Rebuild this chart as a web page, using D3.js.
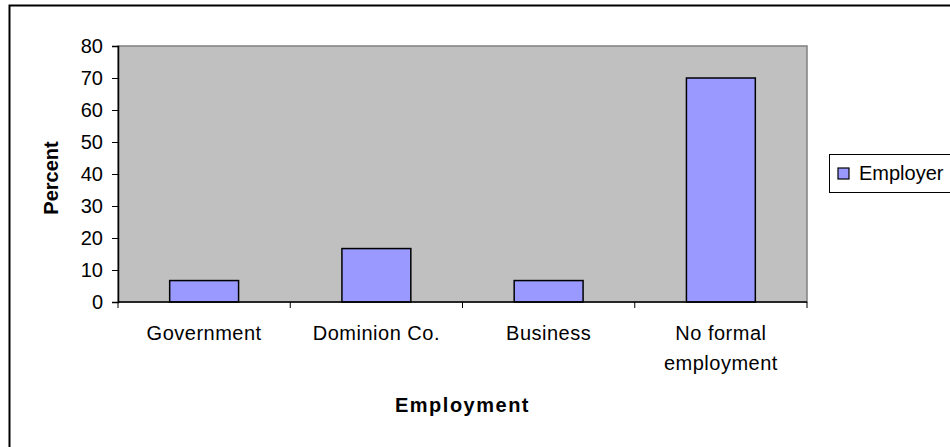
<!DOCTYPE html>
<html>
<head>
<meta charset="utf-8">
<script src="https://cdn.jsdelivr.net/npm/d3@7"></script>
<style>
  body { margin: 0; background: #fff; }
  svg text { font-family: "Liberation Sans", Arial, sans-serif; fill: #000; }
</style>
</head>
<body>
<script>
// chart data
var categories = ["Government", "Dominion Co.", "Business", "No formal employment"];
var categoryLines = [["Government"], ["Dominion Co."], ["Business"], ["No formal", "employment"]];
var employerValues = [6.7, 16.7, 6.7, 70];
var yTicks = [0, 10, 20, 30, 40, 50, 60, 70, 80];
var seriesName = "Employer";

var width = 950, height = 447;
var plot = { left: 118, right: 807, top: 46, bottom: 302 };

var svg = d3.select("body").append("svg")
    .attr("width", width)
    .attr("height", height);

// outer chart border (runs off the right and bottom edges)
svg.append("rect")
    .attr("x", 9.5).attr("y", 5.5)
    .attr("width", 1000).attr("height", 500)
    .attr("fill", "#fff")
    .attr("stroke", "#000")
    .attr("stroke-width", 2);

var x = d3.scaleBand()
    .domain(categories)
    .range([plot.left, plot.right])
    .paddingInner(0.6)
    .paddingOuter(0.3);

var y = d3.scaleLinear()
    .domain([0, 80])
    .range([plot.bottom, plot.top]);

// plot area
svg.append("rect")
    .attr("x", plot.left).attr("y", plot.top)
    .attr("width", plot.right - plot.left)
    .attr("height", plot.bottom - plot.top)
    .attr("fill", "#c0c0c0")
    .attr("stroke", "#808080")
    .attr("stroke-width", 1.5);

// bars
svg.selectAll("rect.bar")
    .data(employerValues)
    .enter()
    .append("rect")
    .attr("class", "bar")
    .attr("x", function (d, i) { return x(categories[i]); })
    .attr("y", function (d) { return y(d); })
    .attr("width", x.bandwidth())
    .attr("height", function (d) { return y(0) - y(d); })
    .attr("fill", "#9999ff")
    .attr("stroke", "#000")
    .attr("stroke-width", 1.5);

// y axis
var yAxis = svg.append("g")
    .attr("transform", "translate(" + plot.left + ",0)")
    .call(d3.axisLeft(y).tickValues(yTicks).tickSize(6).tickPadding(9));
yAxis.select(".domain").attr("stroke", "#000").attr("stroke-width", 1.5);
yAxis.selectAll(".tick line").attr("stroke", "#000");
yAxis.selectAll(".tick text")
    .style("font-size", "20px")
    .style("font-family", "Liberation Sans, Arial, sans-serif")
    .attr("dy", "0.33em");

// x axis line and boundary ticks
svg.append("line")
    .attr("x1", plot.left).attr("x2", plot.right)
    .attr("y1", y(0)).attr("y2", y(0))
    .attr("stroke", "#000").attr("stroke-width", 1.5);

var bounds = d3.range(categories.length + 1).map(function (i) {
    return x.range()[0] + i * x.step();
});
svg.selectAll("line.xtick")
    .data(bounds)
    .enter()
    .append("line")
    .attr("class", "xtick")
    .attr("x1", function (d) { return d; })
    .attr("x2", function (d) { return d; })
    .attr("y1", y(0))
    .attr("y2", y(0) + 6)
    .attr("stroke", "#000");

// category labels
var catLabels = svg.selectAll("text.cat")
    .data(categoryLines)
    .enter()
    .append("text")
    .attr("class", "cat")
    .attr("text-anchor", "middle")
    .style("font-size", "20px")
    .style("letter-spacing", "0.5px");
catLabels.each(function (lines, i) {
    var t = d3.select(this);
    lines.forEach(function (s, k) {
        t.append("tspan")
            .attr("x", x(categories[i]) + x.bandwidth() / 2)
            .attr("y", 340 + k * 30)
            .text(s);
    });
});

// axis titles
svg.append("text")
    .attr("x", (plot.left + plot.right) / 2)
    .attr("y", 412)
    .attr("text-anchor", "middle")
    .style("font-size", "20px")
    .style("font-weight", "bold")
    .style("letter-spacing", "1.5px")
    .text("Employment");

svg.append("text")
    .attr("transform", "translate(58,178) rotate(-90)")
    .attr("text-anchor", "middle")
    .style("font-size", "20px")
    .style("font-weight", "bold")
    .text("Percent");

// legend
var legend = svg.append("g");
legend.append("rect")
    .attr("x", 829.5).attr("y", 154.5)
    .attr("width", 200).attr("height", 38)
    .attr("fill", "#fff")
    .attr("stroke", "#000");
legend.append("rect")
    .attr("x", 838).attr("y", 168)
    .attr("width", 11).attr("height", 11)
    .attr("fill", "#9999ff")
    .attr("stroke", "#000")
    .attr("stroke-width", 1.2);
legend.append("text")
    .attr("x", 859).attr("y", 180)
    .style("font-size", "20px")
    .text(seriesName);
</script>
</body>
</html>
